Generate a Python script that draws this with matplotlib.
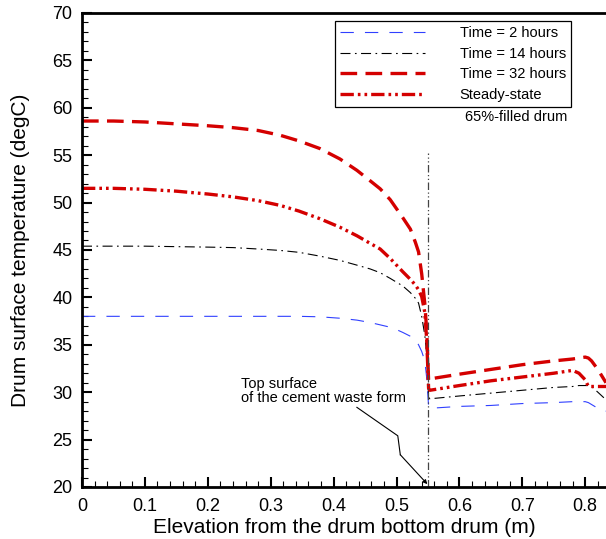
import matplotlib.pyplot as plt
import numpy as np
from matplotlib.ticker import MultipleLocator

plt.rcParams['font.family'] = ['Liberation Sans', 'DejaVu Sans']

# elevation (m)
x = [0.0, 0.05, 0.1, 0.15, 0.2, 0.24, 0.28, 0.315, 0.345, 0.378, 0.41, 0.437,
     0.458, 0.474, 0.49, 0.5, 0.51, 0.522, 0.53, 0.535, 0.54, 0.545, 0.548, 0.551,
     0.553, 0.6, 0.65, 0.7, 0.75, 0.78, 0.79, 0.8, 0.805, 0.81, 0.82, 0.833]

t2 = [38.0, 38.0, 38.0, 38.0, 38.0, 38.0, 38.0, 38.0, 38.0, 37.95, 37.8, 37.6,
      37.35, 37.1, 36.85, 36.6, 36.3, 35.9, 35.5, 35.0, 34.3, 33.3, 31.5, 28.5,
      28.3, 28.5, 28.6, 28.8, 28.9, 29.0, 29.0, 29.0, 28.9, 28.7, 28.3, 28.0]
t14 = [45.4, 45.4, 45.4, 45.35, 45.3, 45.25, 45.1, 44.95, 44.75, 44.35, 43.9, 43.4,
       43.0, 42.6, 42.0, 41.6, 41.2, 40.5, 39.9, 39.4, 38.0, 36.0, 34.0, 29.5,
       29.3, 29.6, 29.9, 30.2, 30.5, 30.6, 30.7, 30.7, 30.7, 30.6, 30.0, 29.2]
t32 = [58.6, 58.6, 58.5, 58.3, 58.1, 57.9, 57.6, 57.1, 56.5, 55.7, 54.6, 53.4,
       52.3, 51.45, 50.3, 49.35, 48.4, 47.2, 45.8, 44.8, 42.5, 39.3, 36.5, 31.2,
       31.4, 31.9, 32.4, 32.9, 33.3, 33.5, 33.6, 33.7, 33.6, 33.3, 32.4, 31.0]
steady = [51.5, 51.5, 51.4, 51.2, 50.9, 50.6, 50.2, 49.7, 49.1, 48.3, 47.4, 46.5,
          45.7, 45.1, 44.1, 43.4, 42.7, 41.9, 41.3, 40.8, 40.1, 38.4, 35.5, 30.4,
          30.2, 30.7, 31.2, 31.6, 32.0, 32.3, 32.0, 31.3, 30.6, 30.6, 30.6, 30.6]

labels = ['Time = 2 hours', 'Time = 14 hours', 'Time = 32 hours', 'Steady-state']

red = '#d40000'

fig = plt.figure(figsize=(6.06, 5.39), dpi=100)
ax = fig.add_axes([0.1353, 0.0965, 0.8647, 0.8795])

ax.plot(x, t2, color='#3040ff', lw=0.8, dashes=(12, 10), label=labels[0])
ax.plot(x, t14, color='black', lw=0.8, dashes=(9, 4, 1.5, 4), label=labels[1])
ax.plot(x, t32, color=red, lw=2.4, dashes=(5, 2.5), label=labels[2])
ax.plot(x, steady, color=red, lw=2.4, dashes=(4, 1.2, 0.8, 1.2, 0.8, 1.2), label=labels[3])

# top of cement waste form
ax.plot([0.55, 0.55], [20, 55.2], color='#444444', lw=0.9,
        dashes=(6, 2, 1, 2, 1, 2))

ax.plot([0.437, 0.502, 0.506], [28.4, 25.4, 23.4], color='black', lw=0.8)
ax.annotate('', xy=(0.549, 20.3), xytext=(0.506, 23.4),
            arrowprops=dict(arrowstyle='-|>', color='black', lw=0.8,
                            mutation_scale=6, shrinkA=0, shrinkB=0))
ax.text(0.252, 28.6, 'Top surface\nof the cement waste form', fontsize=10.5,
        ha='left', va='bottom', linespacing=1.0)

ax.set_xlim(0, 0.833)
ax.set_ylim(20, 70)
ax.xaxis.set_major_locator(MultipleLocator(0.1))
ax.xaxis.set_minor_locator(MultipleLocator(0.02))
ax.yaxis.set_major_locator(MultipleLocator(5))
ax.yaxis.set_minor_locator(MultipleLocator(1))
ax.set_xticks(np.arange(0, 0.81, 0.1))
ax.set_xticklabels(['0', '0.1', '0.2', '0.3', '0.4', '0.5', '0.6', '0.7', '0.8'])
ax.tick_params(which='major', direction='in', length=7, width=1.5, labelsize=13)
ax.tick_params(axis='y', which='major', pad=7)
ax.tick_params(axis='x', which='major', pad=8)
ax.tick_params(which='minor', direction='in', length=4, width=0.8)
for s in ax.spines.values():
    s.set_linewidth(2)
ax.spines['right'].set_visible(False)

ax.set_xlabel('Elevation from the drum bottom drum (m)', fontsize=15, labelpad=2)
ax.set_ylabel('Drum surface temperature (degC)', fontsize=15, labelpad=16)

leg = ax.legend(loc='upper left', bbox_to_anchor=(0.483, 0.983), fontsize=10.5,
                handlelength=5.8, handletextpad=2.4, labelspacing=0.45,
                borderpad=0.35, borderaxespad=0, fancybox=False, framealpha=1)
leg.get_frame().set_edgecolor('black')
leg.get_frame().set_linewidth(0.9)
ax.text(0.731, 0.78, '65%-filled drum', transform=ax.transAxes, fontsize=10.5,
        ha='left', va='center')

fig.savefig('out.png', dpi=100)
